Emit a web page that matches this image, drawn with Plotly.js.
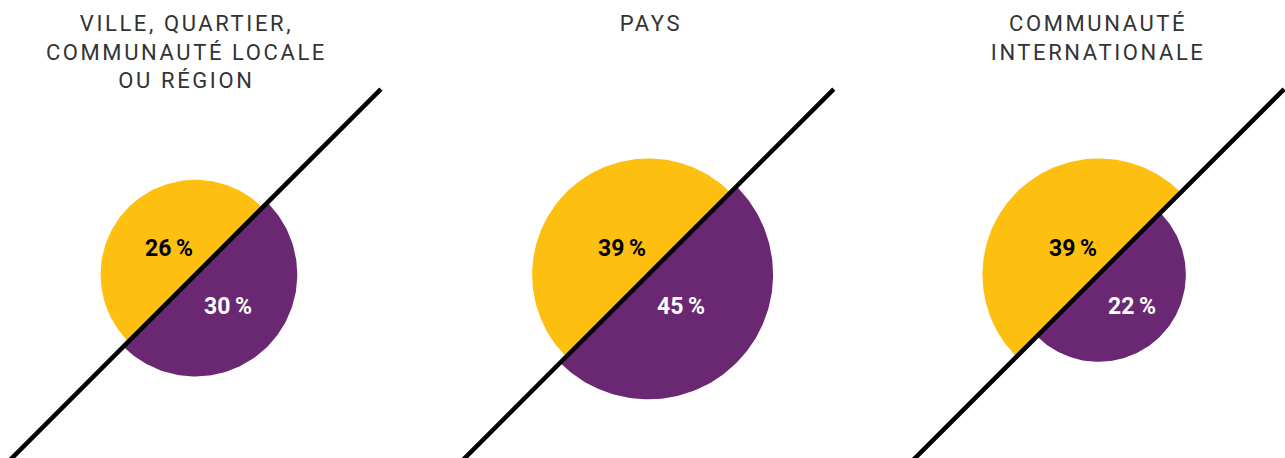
<!DOCTYPE html>
<html>
<head>
<meta charset="utf-8">
<script src="https://cdn.plot.ly/plotly-3.0.1.min.js"></script>
<style>
  html, body { margin: 0; padding: 0; background: #fff; }
  #chart { width: 1285px; height: 458px; }
  .annotation[data-index="0"] .annotation-text,
  .annotation[data-index="1"] .annotation-text,
  .annotation[data-index="2"] .annotation-text { letter-spacing: 2.6px; }
</style>
</head>
<body>
<div id="chart"></div>
<script>
// ---- data ----
const categories = ["VILLE, QUARTIER,<br>COMMUNAUTÉ LOCALE<br>OU RÉGION", "PAYS", "COMMUNAUTÉ<br>INTERNATIONALE"];
const yellowValues = [26, 39, 39];
const purpleValues = [30, 45, 22];

// ---- layout constants (pixels) ----
const W = 1285, H = 458;
const centerX = [195.4, 648.3, 1098.6];
const titleX = [186, 651, 1098];
const centerY = 274.6;
const K = 18.6;               // radius px per sqrt(percent): half-disc area ∝ value
const lineTop = 185.5;        // how far the diagonal reaches above the centre
const YELLOW = "#FDC010", PURPLE = "#6A2873";

function halfDisc(cx, cy, r, a0, a1) {
  const xs = [], ys = [];
  const n = 120;
  for (let i = 0; i <= n; i++) {
    const a = (a0 + (a1 - a0) * i / n) * Math.PI / 180;
    xs.push(cx + r * Math.cos(a));
    ys.push(cy - r * Math.sin(a));
  }
  xs.push(xs[0]); ys.push(ys[0]);
  return {xs, ys};
}

const traces = [];
const annotations = [];

categories.forEach((cat, i) => {
  annotations.push({
    text: cat, x: titleX[i], y: 1, xref: "x", yref: "paper",
    xanchor: "center", yanchor: "top", yshift: -9, showarrow: false,
    font: {family: "Roboto", size: 22, color: "#333333"}
  });
});

categories.forEach((cat, i) => {
  const cx = centerX[i];
  const ry = K * Math.sqrt(yellowValues[i]);
  const rp = K * Math.sqrt(purpleValues[i]);
  const y = halfDisc(cx, centerY, ry, 45, 225);
  const p = halfDisc(cx, centerY, rp, 225, 405);
  traces.push({x: y.xs, y: y.ys, type: "scatter", mode: "lines", fill: "toself",
    fillcolor: YELLOW, line: {width: 0, color: YELLOW}, hoverinfo: "skip", showlegend: false});
  traces.push({x: p.xs, y: p.ys, type: "scatter", mode: "lines", fill: "toself",
    fillcolor: PURPLE, line: {width: 0, color: PURPLE}, hoverinfo: "skip", showlegend: false});
  traces.push({x: [cx + lineTop, cx - 400], y: [centerY - lineTop, centerY + 400],
    type: "scatter", mode: "lines", line: {color: "#000000", width: 4.5},
    hoverinfo: "skip", showlegend: false});
  annotations.push({
    text: "<b>" + yellowValues[i] + "\u2009%</b>", x: cx - 26, y: centerY - 26,
    xref: "x", yref: "y", showarrow: false,
    font: {family: "Roboto", size: 23, color: "#000000"}
  });
  annotations.push({
    text: "<b>" + purpleValues[i] + "\u2009%</b>", x: cx + 33, y: centerY + 32,
    xref: "x", yref: "y", showarrow: false,
    font: {family: "Roboto", size: 23, color: "#FFFFFF"}
  });
});

const layout = {
  width: W, height: H,
  margin: {l: 0, r: 0, t: 0, b: 0, pad: 0},
  paper_bgcolor: "#ffffff", plot_bgcolor: "#ffffff",
  xaxis: {range: [0, W], visible: false, fixedrange: true},
  yaxis: {range: [H, 0], visible: false, fixedrange: true},
  annotations: annotations,
  showlegend: false
};

Plotly.newPlot("chart", traces, layout, {staticPlot: true, displayModeBar: false});
</script>
</body>
</html>
